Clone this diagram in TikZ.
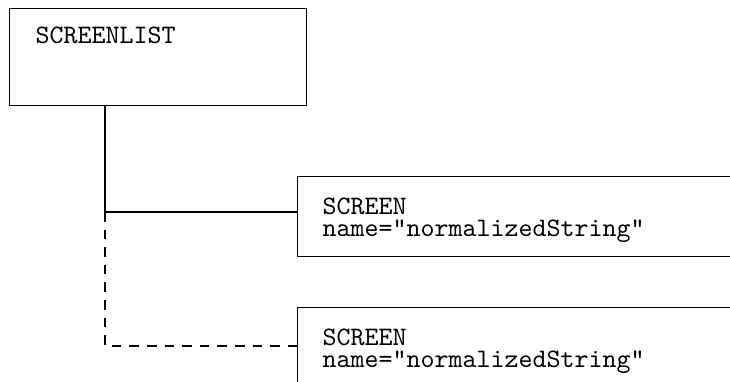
\documentclass[tikz,border=0pt]{standalone}
\usepackage{tikz}
\usetikzlibrary{calc}
\tikzset{
  box/.style={draw, line width=.5pt, rectangle, anchor=north west, inner sep=0pt},
  txt/.style={anchor=north west, inner sep=0pt, align=left, font=\fontsize{10pt}{8.3pt}\selectfont\ttfamily},
  link/.style={line width=.5pt},
  optlink/.style={line width=.5pt, dash pattern=on 3.6pt off 3pt}
}
\newcommand{\Screen}[3]{\node[box, minimum width=170pt, minimum height=#3] (#1) at (#2) {};
  \node[txt] (#1txt) at ($(#1.north west)+(25,21)$) {SCREEN\\name="normalizedString"};}

\begin{document}
\begin{tikzpicture}[x=.375pt,y=-.375pt]
    \clip (0,0) rectangle (730,382);

    \node[box, minimum width=111.4pt, minimum height=36.4pt] (list) at (9,8) {};
    \node[txt] (listtxt) at ($(list.north west)+(26,18)$) {SCREENLIST};

    \Screen{scr1}{297,176}{30pt}
    \Screen{scr2}{297,307}{40pt}

    \coordinate (stem) at ($(list.south west)+(96,0)$);
    \coordinate (j1) at ($(scr1.north west)+(0,36)$);
    \coordinate (j2) at ($(scr2.north west)+(0,39)$);

    \draw[link] (stem) |- (j1);
    \draw[optlink] (stem |- j1) |- (j2);
  \end{tikzpicture}
\end{document}
